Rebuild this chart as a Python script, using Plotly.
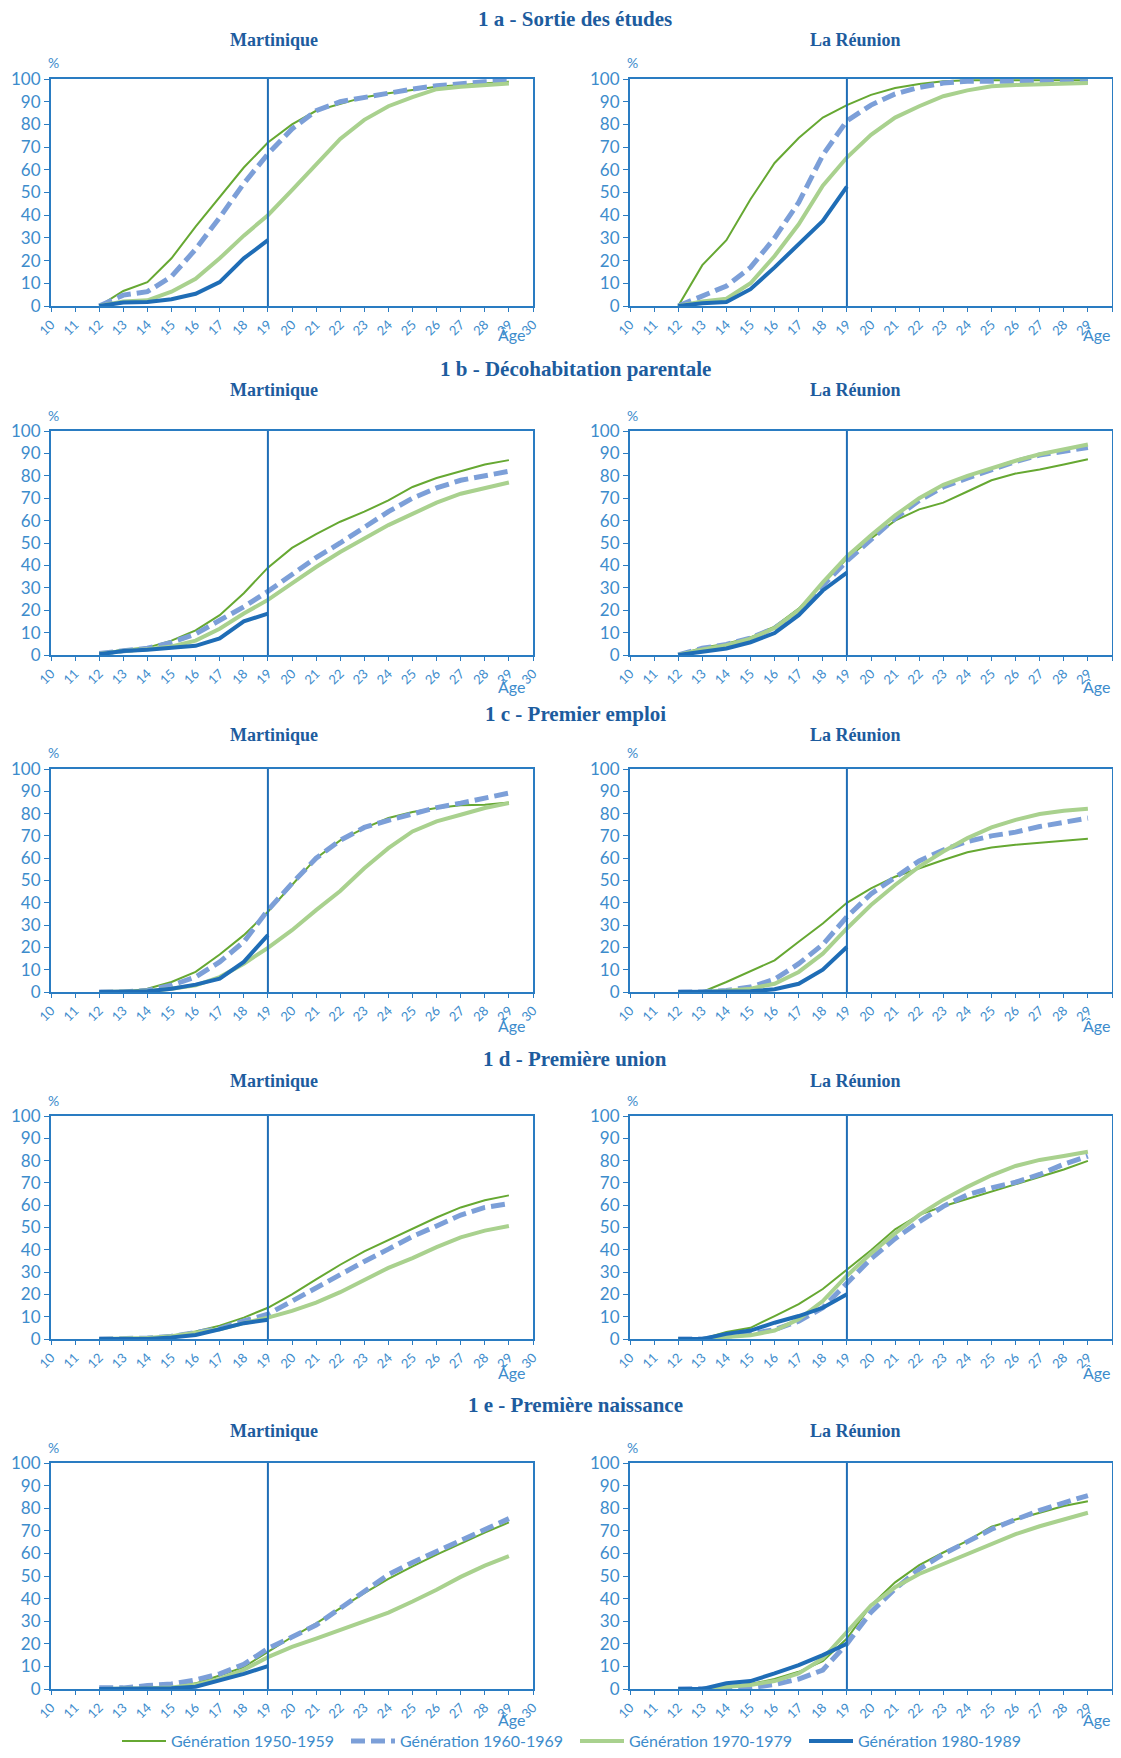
import plotly.graph_objects as go
from plotly.subplots import make_subplots

ages = list(range(12, 30))
ages_80 = list(range(12, 20))

generations = ["Génération 1950-1959", "Génération 1960-1969",
               "Génération 1970-1979", "Génération 1980-1989"]
sections = ["1 a - Sortie des études", "1 b - Décohabitation parentale",
            "1 c - Premier emploi", "1 d - Première union", "1 e - Première naissance"]
regions = ["Martinique", "La Réunion"]
x_ticks = list(range(10, 31))
y_ticks = list(range(0, 101, 10))

# 1 a - Sortie des études
etudes_mq_50 = [0, 6.6, 10.5, 21, 35, 48, 61, 72, 80, 86, 89, 92, 93.7, 95, 96.6, 97.4, 98, 98.8]
etudes_mq_60 = [0, 4.8, 6.3, 13, 25, 39, 54, 67, 78, 86, 90, 92, 94, 95.6, 97, 98, 98.8, 99.3]
etudes_mq_70 = [0, 2, 2.5, 6.3, 12, 21, 31, 40, 51, 62.5, 73.6, 82, 88, 92, 95.5, 96.6, 97.4, 98]
etudes_mq_80 = [0, 1.5, 1.8, 3, 5.4, 10.5, 21, 29]
etudes_re_50 = [0, 18, 29, 47, 63, 74, 83, 88.5, 93, 96, 97.8, 99, 99.5, 99.5, 99.5, 99.5, 99.5, 99.5]
etudes_re_60 = [0, 4.7, 8.8, 17, 30, 45.6, 66.5, 81.6, 88.5, 93.4, 96.3, 98.2, 99, 99, 98.8, 98.8, 98.8, 98.8]
etudes_re_70 = [0, 2, 3.2, 10, 22, 36, 53, 65.4, 75.4, 83, 88, 92.4, 95, 96.8, 97.4, 97.6, 98, 98.2]
etudes_re_80 = [0, 1.2, 1.8, 7.4, 17, 27, 37.5, 52.6]

# 1 b - Décohabitation parentale
decohab_mq_50 = [0.7, 2.3, 3.3, 6.4, 11, 17.8, 27.6, 39, 47.8, 54, 59.5, 64, 69, 75, 79, 82, 85, 87]
decohab_mq_60 = [0.7, 2, 3, 5.6, 9.4, 15.5, 21.5, 28.4, 36, 43.5, 50, 57, 64, 70, 74.6, 78, 80, 82]
decohab_mq_70 = [0.5, 1.8, 2.6, 3.8, 6.4, 11.7, 18.5, 24.6, 32, 39.3, 46, 52, 58, 63, 68, 72, 74.6, 77]
decohab_mq_80 = [0.3, 1.8, 2.3, 3.2, 4.1, 7.4, 15, 18.5]
decohab_re_50 = [0, 3.2, 5, 7.9, 12.7, 20.7, 31.7, 43, 52, 60, 65, 68, 73, 78, 81, 82.8, 85, 87.4]
decohab_re_60 = [0, 3, 4.7, 7.6, 12, 19.5, 31, 42, 51.5, 61, 69, 75, 79, 82.8, 86.4, 89.3, 91, 92.6]
decohab_re_70 = [0, 2.5, 4.4, 7.3, 12, 20, 32.4, 44, 53.4, 62.3, 70, 76, 80, 83.5, 86.7, 89.6, 92, 94]
decohab_re_80 = [0, 1.5, 2.9, 5.7, 9.8, 17.8, 28.8, 36.8]

# 1 c - Premier emploi
emploi_mq_50 = [0, 0, 1.5, 4.5, 9, 16.8, 25.5, 36, 48, 60, 68, 73.5, 78, 80.7, 82.5, 83.7, 84, 85]
emploi_mq_60 = [0, 0, 0.7, 3, 6.7, 13.5, 22.5, 36.7, 48.7, 60, 68, 73.8, 77, 80, 82.7, 84.7, 87, 89.2]
emploi_mq_70 = [0, 0, 0.3, 1.5, 3, 6.7, 12.7, 19.8, 27.7, 36.7, 45.3, 55.5, 64.5, 72, 76.5, 79.5, 82.5, 84.7]
emploi_mq_80 = [0, 0, 0.3, 1.5, 3.3, 6, 13.5, 25.5]
emploi_re_50 = [0, 0, 4.5, 9.3, 14.2, 22.5, 30.7, 40, 46.5, 51.7, 55.5, 59.2, 62.7, 64.8, 66, 66.8, 67.8, 68.7]
emploi_re_60 = [0, 0, 0.7, 2.2, 5.7, 12.7, 21.3, 33.7, 44, 51.7, 58.8, 63.7, 67.5, 70, 71.7, 74.2, 76, 78]
emploi_re_70 = [0, 0, 0.6, 1.5, 3.7, 9, 17.2, 28.5, 39, 48, 56.2, 63, 69, 73.8, 77.2, 79.8, 81.3, 82.2]
emploi_re_80 = [0, 0, 0, 0.3, 1.2, 3.7, 10, 20.2]

# 1 d - Première union
union_mq_50 = [0, 0.2, 0.6, 1.5, 3.4, 6, 9.6, 14, 20, 26.7, 33.3, 39.3, 44.4, 49.6, 54.5, 59, 62.2, 64.4]
union_mq_60 = [0, 0.2, 0.4, 1.2, 2.7, 4.7, 8.1, 11.1, 17, 23, 28.9, 34.8, 40.3, 46, 50.7, 55.6, 59, 60.7]
union_mq_70 = [0, 0.2, 0.4, 1.2, 2.7, 4.4, 7.1, 9.6, 12.6, 16.3, 21, 26.7, 31.9, 36.3, 41.2, 45.6, 48.6, 50.7]
union_mq_80 = [0, 0, 0, 0.7, 1.8, 4.4, 7.1, 8.6]
union_re_50 = [0, 0, 3.2, 5, 10.3, 15.6, 22.4, 31, 39.8, 49.2, 55.7, 59.5, 62.8, 66, 69.3, 72.6, 76, 79.9]
union_re_60 = [0, 0, 1.2, 2.3, 4.2, 8, 14, 25.4, 36, 45, 52.6, 59.5, 64.7, 67.8, 70.3, 73.8, 78.4, 82]
union_re_70 = [0, 0, 0.9, 1.7, 3.8, 8.8, 17, 28.4, 38.3, 47.4, 55.7, 62.5, 68.2, 73.4, 77.6, 80.3, 82.1, 84]
union_re_80 = [0, 0, 2.3, 3.8, 7.3, 10.3, 14, 20.1]

# 1 e - Première naissance
naiss_mq_50 = [0, 0, 0.3, 0.7, 2.5, 6, 9.7, 16.4, 23, 29, 35.7, 42.4, 48.7, 54.3, 59.5, 64.4, 69.2, 73.7]
naiss_mq_60 = [0.5, 0.5, 1.5, 2.2, 4, 6.7, 10.9, 17.9, 23, 28.3, 35.7, 43, 50.6, 56, 61, 65.5, 70.7, 75.4]
naiss_mq_70 = [0, 0, 0.3, 0.7, 1.9, 4.5, 8.5, 14.1, 18.6, 22.3, 26, 29.8, 33.8, 38.7, 43.9, 49.6, 54.6, 58.8]
naiss_mq_80 = [0, 0, 0, 0.3, 1, 3.7, 6.7, 10.1]
naiss_re_50 = [0, 0, 1, 2.2, 4.4, 7.6, 12.3, 22.3, 37, 47.2, 54.8, 60.4, 65.5, 71.8, 75, 78, 81, 83.1]
naiss_re_60 = [0, 0, 0.3, 0.6, 2, 4.4, 8.4, 20, 34, 44.3, 53, 59.7, 65.5, 70.7, 75, 79, 82.4, 85.6]
naiss_re_70 = [0, 0, 1, 1.8, 3.5, 6.9, 13.5, 25.2, 37, 45, 50.9, 55.3, 59.7, 64, 68.5, 72, 75, 78]
naiss_re_80 = [0, 0, 2.5, 3.5, 6.9, 10.6, 15, 20]

panels = [
    [[etudes_mq_50, etudes_mq_60, etudes_mq_70, etudes_mq_80],
     [etudes_re_50, etudes_re_60, etudes_re_70, etudes_re_80]],
    [[decohab_mq_50, decohab_mq_60, decohab_mq_70, decohab_mq_80],
     [decohab_re_50, decohab_re_60, decohab_re_70, decohab_re_80]],
    [[emploi_mq_50, emploi_mq_60, emploi_mq_70, emploi_mq_80],
     [emploi_re_50, emploi_re_60, emploi_re_70, emploi_re_80]],
    [[union_mq_50, union_mq_60, union_mq_70, union_mq_80],
     [union_re_50, union_re_60, union_re_70, union_re_80]],
    [[naiss_mq_50, naiss_mq_60, naiss_mq_70, naiss_mq_80],
     [naiss_re_50, naiss_re_60, naiss_re_70, naiss_re_80]],
]

# the page body has an 8px margin, so the figure is 16px smaller than the window
PAD = 8
W, H = 1121 - 2 * PAD, 1758 - 2 * PAD

def px(x):
    return (x - PAD) / W

def py(y):
    return 1 - (y - PAD) / H

TITLE_BLUE = "#1d5c9e"
AXIS_BLUE = "#2a7cc2"
TEXT_BLUE = "#3d8ccc"

line_styles = [
    dict(color="#66a832", width=2),
    dict(color="#7c9fd8", width=5, dash="14px,6px"),
    dict(color="#a9d18e", width=4),
    dict(color="#1f6db6", width=4),
]

# layout positions in page pixels
col_px = [(51, 533), (630, 1112)]
row_px = [(79, 306), (431, 655), (769, 992), (1116, 1339), (1463, 1689)]
title_y = [19, 369, 714, 1059, 1405]
sub_y = [40, 390, 735, 1081, 1431]
age_y = [335, 686, 1025, 1372, 1719]
sub_x = [274, 855]
age_x = [511, 1096]

fig = make_subplots(rows=5, cols=2)

for r in range(5):
    for c in range(2):
        for g in range(4):
            x = ages_80 if g == 3 else ages
            fig.add_trace(go.Scatter(
                x=x, y=panels[r][c][g], mode="lines", name=generations[g],
                line=line_styles[g], legendgroup=generations[g],
                showlegend=(r == 0 and c == 0)), row=r + 1, col=c + 1)
        fig.add_vline(x=19, line_color="#1f6db6", line_width=2, row=r + 1, col=c + 1)

        x0, x1 = col_px[c]
        y0, y1 = row_px[r]
        fig.update_xaxes(domain=[px(x0), px(x1)], range=[10, 30], tickvals=x_ticks,
                         tickangle=-45, ticks="outside", ticklen=4, tickcolor=AXIS_BLUE,
                         showline=True, linecolor=AXIS_BLUE, linewidth=2, mirror=True,
                         showgrid=False, zeroline=False, automargin=False,
                         tickfont=dict(family="Lato", size=13, color=TEXT_BLUE),
                         row=r + 1, col=c + 1)
        fig.update_yaxes(domain=[py(y1), py(y0)], range=[0, 100], tickvals=y_ticks,
                         ticks="outside", ticklen=5, tickcolor=AXIS_BLUE,
                         showline=True, linecolor=AXIS_BLUE, linewidth=2, mirror=True,
                         showgrid=False, zeroline=False, automargin=False,
                         tickfont=dict(family="Lato", size=17, color=TEXT_BLUE),
                         row=r + 1, col=c + 1)

        # region subtitle, % and Âge
        fig.add_annotation(x=px(sub_x[c]), y=py(sub_y[r]), xref="paper", yref="paper",
                           xanchor="center", yanchor="middle",
                           text="<b>" + regions[c] + "</b>", showarrow=False,
                           font=dict(family="Liberation Serif", size=18, color=TITLE_BLUE))
        fig.add_annotation(x=px(x0 + 2), y=py(y0 - 16), xref="paper", yref="paper",
                           xanchor="center", yanchor="middle",
                           text="%", showarrow=False,
                           font=dict(family="Lato", size=14, color=TEXT_BLUE))
        fig.add_annotation(x=px(age_x[c]), y=py(age_y[r]),
                           xref="paper", yref="paper", xanchor="center", yanchor="middle",
                           text="Âge", showarrow=False,
                           font=dict(family="Lato", size=16, color=TEXT_BLUE))

    fig.add_annotation(x=px(575), y=py(title_y[r]), xref="paper", yref="paper",
                       xanchor="center", yanchor="middle",
                       text="<b>" + sections[r] + "</b>", showarrow=False,
                       font=dict(family="Liberation Serif", size=21, color=TITLE_BLUE))

fig.update_layout(
    width=W, height=H,
    margin=dict(l=0, r=0, t=0, b=0, autoexpand=False),
    plot_bgcolor="white", paper_bgcolor="white",
    legend=dict(orientation="h", x=px(117), y=py(1741), yanchor="middle",
                xanchor="left", entrywidth=170, itemwidth=44,
                font=dict(family="Lato", size=16, color=TEXT_BLUE)),
)

fig.write_html("out.html")
